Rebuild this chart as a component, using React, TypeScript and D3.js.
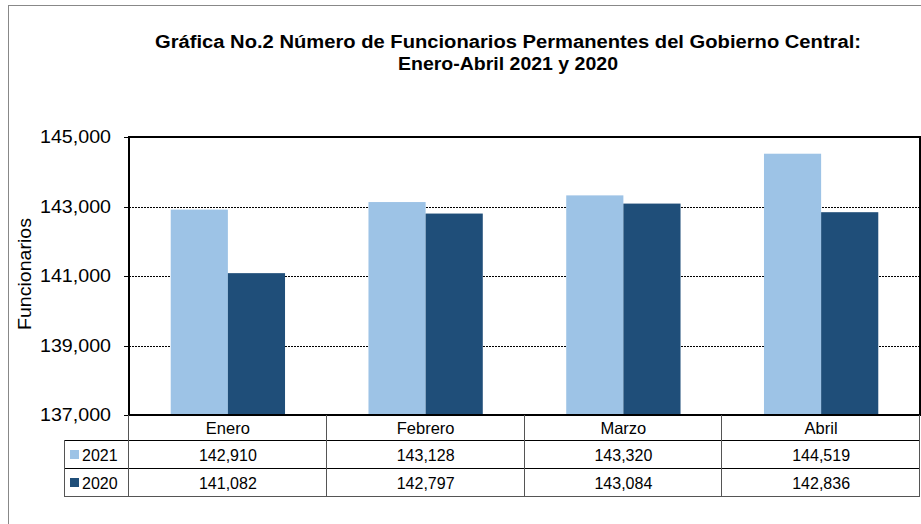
import React, { useEffect, useRef } from 'react';
import * as d3 from 'd3';

const months = ['Enero', 'Febrero', 'Marzo', 'Abril'];
const series2021 = [142910, 143128, 143320, 144519];
const series2020 = [141082, 142797, 143084, 142836];
const seriesNames = ['2021', '2020'];
const seriesColors = ['#9DC3E6', '#1F4E79'];
const yTicks = [137000, 139000, 141000, 143000, 145000];

const W = 921;
const H = 524;

export default function App() {
  const svgRef = useRef<SVGSVGElement>(null);

  useEffect(() => {
    if (!svgRef.current) return;
    const svg = d3.select(svgRef.current);
    svg.selectAll('*').remove();

    const font = 'Arial, "Liberation Sans", sans-serif';
    const left = 129, right = 920, top = 137, bottom = 415;

    // outer frame
    svg.append('rect')
      .attr('x', 8.5).attr('y', 5.5)
      .attr('width', W).attr('height', H)
      .attr('fill', 'white').attr('stroke', '#888').attr('stroke-width', 1);

    // title
    const title = svg.append('text')
      .attr('text-anchor', 'middle')
      .attr('font-family', font).attr('font-weight', 'bold').attr('font-size', 17.5)
      .attr('fill', '#000');
    title.append('tspan').attr('x', 508).attr('y', 48)
      .attr('textLength', 706).attr('lengthAdjust', 'spacingAndGlyphs')
      .text('Gráfica No.2 Número de Funcionarios Permanentes del Gobierno Central:');
    svg.append('text')
      .attr('text-anchor', 'middle')
      .attr('font-family', font).attr('font-weight', 'bold').attr('font-size', 17.5)
      .attr('x', 508).attr('y', 70)
      .attr('textLength', 220).attr('lengthAdjust', 'spacingAndGlyphs')
      .text('Enero-Abril 2021 y 2020');

    const x = d3.scaleBand<string>().domain(months).range([left, right]).paddingInner(0).paddingOuter(0);
    const y = d3.scaleLinear().domain([137000, 145000]).range([bottom, top]);
    const inner = d3.scaleBand<string>().domain(seriesNames).range([0, x.bandwidth()]).paddingOuter(0.73).paddingInner(0);

    // grid
    svg.append('g').selectAll('line')
      .data(yTicks.slice(1, -1))
      .enter().append('line')
      .attr('x1', left).attr('x2', right)
      .attr('y1', d => Math.round(y(d)) + 0.5).attr('y2', d => Math.round(y(d)) + 0.5)
      .attr('stroke', '#000').attr('stroke-width', 1).attr('stroke-dasharray', '2,1');

    // bars
    const data = [series2021, series2020];
    data.forEach((vals, si) => {
      svg.append('g').selectAll('rect')
        .data(vals)
        .enter().append('rect')
        .attr('x', (d, i) => (x(months[i]) as number) + (inner(seriesNames[si]) as number))
        .attr('y', d => y(d))
        .attr('width', inner.bandwidth())
        .attr('height', d => bottom - y(d))
        .attr('fill', seriesColors[si]);
    });

    // y axis ticks and labels
    const yAxis = svg.append('g');
    yAxis.selectAll('line')
      .data(yTicks).enter().append('line')
      .attr('x1', left - 5).attr('x2', left)
      .attr('y1', d => Math.round(y(d)) + 0.5).attr('y2', d => Math.round(y(d)) + 0.5)
      .attr('stroke', '#000');
    yAxis.selectAll('text')
      .data(yTicks).enter().append('text')
      .attr('x', 111).attr('y', d => y(d))
      .attr('dy', '0.35em')
      .attr('text-anchor', 'end')
      .attr('font-family', font).attr('font-size', 18.5)
      .attr('textLength', 71).attr('lengthAdjust', 'spacingAndGlyphs')
      .text(d => d3.format(',')(d));

    svg.append('text')
      .attr('transform', 'translate(31,274) rotate(-90)')
      .attr('text-anchor', 'middle')
      .attr('font-family', font).attr('font-size', 18)
      .attr('textLength', 112).attr('lengthAdjust', 'spacingAndGlyphs')
      .text('Funcionarios');

    // plot border
    svg.append('rect')
      .attr('x', left).attr('y', top)
      .attr('width', right - left).attr('height', bottom - top)
      .attr('fill', 'none').attr('stroke', '#000').attr('stroke-width', 2);

    // data table
    const rowY = [415, 440, 468, 496];
    const legendLeft = 64;
    const tbl = svg.append('g');
    // horizontal lines
    tbl.append('line').attr('x1', legendLeft).attr('x2', right).attr('y1', rowY[1] + 0.5).attr('y2', rowY[1] + 0.5).attr('stroke', '#000');
    tbl.append('line').attr('x1', legendLeft).attr('x2', right).attr('y1', rowY[2] + 0.5).attr('y2', rowY[2] + 0.5).attr('stroke', '#000');
    tbl.append('line').attr('x1', legendLeft).attr('x2', right).attr('y1', rowY[3] + 0.5).attr('y2', rowY[3] + 0.5).attr('stroke', '#555');
    // vertical lines
    const vx = [left, ...months.slice(1).map(m => x(m) as number), right];
    tbl.selectAll('line.v')
      .data(vx).enter().append('line')
      .attr('x1', d => Math.round(d) - 0.5).attr('x2', d => Math.round(d) - 0.5)
      .attr('y1', rowY[0]).attr('y2', rowY[3])
      .attr('stroke', '#555');
    tbl.append('line').attr('x1', legendLeft + 0.5).attr('x2', legendLeft + 0.5).attr('y1', rowY[1]).attr('y2', rowY[3]).attr('stroke', '#555');

    // header labels
    tbl.selectAll('text.h')
      .data(months).enter().append('text')
      .attr('x', d => (x(d) as number) + x.bandwidth() / 2)
      .attr('y', (rowY[0] + rowY[1]) / 2 + 1)
      .attr('dy', '0.35em').attr('text-anchor', 'middle')
      .attr('font-family', font).attr('font-size', 16.5)
      .text(d => d);

    data.forEach((vals, si) => {
      const cy = (rowY[si + 1] + rowY[si + 2]) / 2 + 1;
      tbl.append('rect')
        .attr('x', 70).attr('y', cy - 5).attr('width', 9).attr('height', 9)
        .attr('fill', seriesColors[si]);
      tbl.append('text')
        .attr('x', 82).attr('y', cy).attr('dy', '0.35em')
        .attr('font-family', font).attr('font-size', 16)
        .text(seriesNames[si]);
      tbl.selectAll('text.v' + si)
        .data(vals).enter().append('text')
        .attr('x', (d, i) => (x(months[i]) as number) + x.bandwidth() / 2)
        .attr('y', cy).attr('dy', '0.35em').attr('text-anchor', 'middle')
        .attr('font-family', font).attr('font-size', 16)
        .text(d => d3.format(',')(d));
    });
  }, []);

  return (
    <div style={{ position: 'absolute', left: 0, top: 0 }}>
      <svg ref={svgRef} width={W} height={H} style={{ display: 'block', background: 'white' }}></svg>
    </div>
  );
}
